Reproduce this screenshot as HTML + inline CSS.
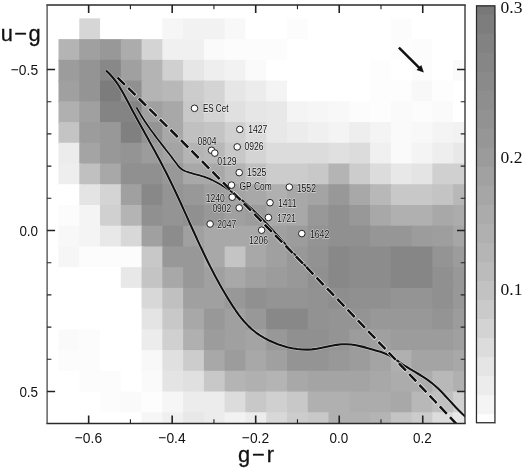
<!DOCTYPE html>
<html><head><meta charset="utf-8"><title>u-g vs g-r</title>
<style>
html,body{margin:0;padding:0;background:#fff;}
svg{display:block;}
.t{font-family:"Liberation Sans","DejaVu Sans",sans-serif;fill:#111;}
.s{font-family:"Liberation Serif","DejaVu Serif",serif;fill:#111;}
.l{font-family:"Liberation Sans","DejaVu Sans",sans-serif;font-size:10.5px;fill:#0a0a0a;stroke:rgba(255,255,255,0.75);stroke-width:1px;paint-order:stroke fill;stroke-linejoin:round;}
</style></head>
<body>
<svg width="525" height="470" viewBox="0 0 525 470">
<rect x="0" y="0" width="525" height="470" fill="#fff"/>
<defs><clipPath id="cp"><rect x="47.1" y="4.9" width="417.9" height="418.7"/></clipPath></defs>
<g clip-path="url(#cp)">
<rect x="58.5" y="18.4" width="22.27" height="22.23" fill="#ffffff"/><rect x="79.27" y="18.4" width="22.27" height="22.23" fill="#d6d6d6"/><rect x="100.04" y="18.4" width="63.81" height="22.23" fill="#ffffff"/><rect x="162.35" y="18.4" width="22.27" height="22.23" fill="#f6f6f6"/><rect x="183.12" y="18.4" width="43.04" height="22.23" fill="#f2f2f2"/><rect x="224.66" y="18.4" width="22.27" height="22.23" fill="#f8f8f8"/><rect x="245.43" y="18.4" width="43.04" height="22.23" fill="#ffffff"/><rect x="286.97" y="18.4" width="22.27" height="22.23" fill="#fcfcfc"/><rect x="307.74" y="18.4" width="84.58" height="22.23" fill="#ffffff"/><rect x="390.82" y="18.4" width="22.27" height="22.23" fill="#fcfcfc"/><rect x="411.59" y="18.4" width="63.81" height="22.23" fill="#ffffff"/>
<rect x="58.5" y="39.13" width="22.27" height="22.23" fill="#b4b4b4"/><rect x="79.27" y="39.13" width="22.27" height="22.23" fill="#a0a0a0"/><rect x="100.04" y="39.13" width="22.27" height="22.23" fill="#989898"/><rect x="120.81" y="39.13" width="22.27" height="22.23" fill="#acacac"/><rect x="141.58" y="39.13" width="22.27" height="22.23" fill="#d4d4d4"/><rect x="162.35" y="39.13" width="43.04" height="22.23" fill="#f0f0f0"/><rect x="203.89" y="39.13" width="22.27" height="22.23" fill="#fafafa"/><rect x="224.66" y="39.13" width="63.81" height="22.23" fill="#fcfcfc"/><rect x="286.97" y="39.13" width="105.35" height="22.23" fill="#ffffff"/><rect x="390.82" y="39.13" width="22.27" height="22.23" fill="#fdfdfd"/><rect x="411.59" y="39.13" width="22.27" height="22.23" fill="#fcfcfc"/><rect x="432.36" y="39.13" width="43.04" height="22.23" fill="#ffffff"/>
<rect x="58.5" y="59.86" width="22.27" height="22.23" fill="#9c9c9c"/><rect x="79.27" y="59.86" width="22.27" height="22.23" fill="#949494"/><rect x="100.04" y="59.86" width="22.27" height="22.23" fill="#888888"/><rect x="120.81" y="59.86" width="22.27" height="22.23" fill="#a0a0a0"/><rect x="141.58" y="59.86" width="22.27" height="22.23" fill="#b4b4b4"/><rect x="162.35" y="59.86" width="22.27" height="22.23" fill="#d0d0d0"/><rect x="183.12" y="59.86" width="22.27" height="22.23" fill="#e6e6e6"/><rect x="203.89" y="59.86" width="22.27" height="22.23" fill="#eeeeee"/><rect x="224.66" y="59.86" width="22.27" height="22.23" fill="#f2f2f2"/><rect x="245.43" y="59.86" width="22.27" height="22.23" fill="#fafafa"/><rect x="266.2" y="59.86" width="105.35" height="22.23" fill="#ffffff"/><rect x="370.05" y="59.86" width="22.27" height="22.23" fill="#fdfdfd"/><rect x="390.82" y="59.86" width="22.27" height="22.23" fill="#ffffff"/><rect x="411.59" y="59.86" width="22.27" height="22.23" fill="#fcfcfc"/><rect x="432.36" y="59.86" width="22.27" height="22.23" fill="#ffffff"/><rect x="453.13" y="59.86" width="22.27" height="22.23" fill="#fafafa"/>
<rect x="58.5" y="80.59" width="22.27" height="22.23" fill="#a0a0a0"/><rect x="79.27" y="80.59" width="22.27" height="22.23" fill="#949494"/><rect x="100.04" y="80.59" width="22.27" height="22.23" fill="#7c7c7c"/><rect x="120.81" y="80.59" width="22.27" height="22.23" fill="#909090"/><rect x="141.58" y="80.59" width="22.27" height="22.23" fill="#b4b4b4"/><rect x="162.35" y="80.59" width="22.27" height="22.23" fill="#b8b8b8"/><rect x="183.12" y="80.59" width="22.27" height="22.23" fill="#cccccc"/><rect x="203.89" y="80.59" width="22.27" height="22.23" fill="#d4d4d4"/><rect x="224.66" y="80.59" width="22.27" height="22.23" fill="#e6e6e6"/><rect x="245.43" y="80.59" width="22.27" height="22.23" fill="#ececec"/><rect x="266.2" y="80.59" width="22.27" height="22.23" fill="#f4f4f4"/><rect x="286.97" y="80.59" width="84.58" height="22.23" fill="#ffffff"/><rect x="370.05" y="80.59" width="43.04" height="22.23" fill="#fdfdfd"/><rect x="411.59" y="80.59" width="22.27" height="22.23" fill="#f8f8f8"/><rect x="432.36" y="80.59" width="22.27" height="22.23" fill="#fdfdfd"/><rect x="453.13" y="80.59" width="22.27" height="22.23" fill="#ffffff"/>
<rect x="58.5" y="101.32" width="22.27" height="22.23" fill="#b0b0b0"/><rect x="79.27" y="101.32" width="22.27" height="22.23" fill="#a0a0a0"/><rect x="100.04" y="101.32" width="43.04" height="22.23" fill="#848484"/><rect x="141.58" y="101.32" width="22.27" height="22.23" fill="#a0a0a0"/><rect x="162.35" y="101.32" width="22.27" height="22.23" fill="#a8a8a8"/><rect x="183.12" y="101.32" width="22.27" height="22.23" fill="#c8c8c8"/><rect x="203.89" y="101.32" width="22.27" height="22.23" fill="#d4d4d4"/><rect x="224.66" y="101.32" width="22.27" height="22.23" fill="#e0e0e0"/><rect x="245.43" y="101.32" width="22.27" height="22.23" fill="#e6e6e6"/><rect x="266.2" y="101.32" width="22.27" height="22.23" fill="#e8e8e8"/><rect x="286.97" y="101.32" width="22.27" height="22.23" fill="#f4f4f4"/><rect x="307.74" y="101.32" width="22.27" height="22.23" fill="#f6f6f6"/><rect x="328.51" y="101.32" width="22.27" height="22.23" fill="#f8f8f8"/><rect x="349.28" y="101.32" width="22.27" height="22.23" fill="#fcfcfc"/><rect x="370.05" y="101.32" width="22.27" height="22.23" fill="#fdfdfd"/><rect x="390.82" y="101.32" width="22.27" height="22.23" fill="#fafafa"/><rect x="411.59" y="101.32" width="22.27" height="22.23" fill="#fcfcfc"/><rect x="432.36" y="101.32" width="22.27" height="22.23" fill="#fafafa"/><rect x="453.13" y="101.32" width="22.27" height="22.23" fill="#ffffff"/>
<rect x="58.5" y="122.05" width="22.27" height="22.23" fill="#c4c4c4"/><rect x="79.27" y="122.05" width="22.27" height="22.23" fill="#9c9c9c"/><rect x="100.04" y="122.05" width="22.27" height="22.23" fill="#989898"/><rect x="120.81" y="122.05" width="22.27" height="22.23" fill="#808080"/><rect x="141.58" y="122.05" width="22.27" height="22.23" fill="#949494"/><rect x="162.35" y="122.05" width="22.27" height="22.23" fill="#a8a8a8"/><rect x="183.12" y="122.05" width="22.27" height="22.23" fill="#c0c0c0"/><rect x="203.89" y="122.05" width="22.27" height="22.23" fill="#c4c4c4"/><rect x="224.66" y="122.05" width="22.27" height="22.23" fill="#d0d0d0"/><rect x="245.43" y="122.05" width="22.27" height="22.23" fill="#dcdcdc"/><rect x="266.2" y="122.05" width="22.27" height="22.23" fill="#e8e8e8"/><rect x="286.97" y="122.05" width="22.27" height="22.23" fill="#ececec"/><rect x="307.74" y="122.05" width="22.27" height="22.23" fill="#f0f0f0"/><rect x="328.51" y="122.05" width="22.27" height="22.23" fill="#f4f4f4"/><rect x="349.28" y="122.05" width="22.27" height="22.23" fill="#eeeeee"/><rect x="370.05" y="122.05" width="22.27" height="22.23" fill="#f4f4f4"/><rect x="390.82" y="122.05" width="22.27" height="22.23" fill="#fafafa"/><rect x="411.59" y="122.05" width="22.27" height="22.23" fill="#f8f8f8"/><rect x="432.36" y="122.05" width="22.27" height="22.23" fill="#f4f4f4"/><rect x="453.13" y="122.05" width="22.27" height="22.23" fill="#f2f2f2"/>
<rect x="58.5" y="142.78" width="22.27" height="22.23" fill="#ececec"/><rect x="79.27" y="142.78" width="22.27" height="22.23" fill="#a4a4a4"/><rect x="100.04" y="142.78" width="22.27" height="22.23" fill="#989898"/><rect x="120.81" y="142.78" width="22.27" height="22.23" fill="#949494"/><rect x="141.58" y="142.78" width="22.27" height="22.23" fill="#9c9c9c"/><rect x="162.35" y="142.78" width="22.27" height="22.23" fill="#a4a4a4"/><rect x="183.12" y="142.78" width="22.27" height="22.23" fill="#b4b4b4"/><rect x="203.89" y="142.78" width="22.27" height="22.23" fill="#b8b8b8"/><rect x="224.66" y="142.78" width="22.27" height="22.23" fill="#c8c8c8"/><rect x="245.43" y="142.78" width="22.27" height="22.23" fill="#d4d4d4"/><rect x="266.2" y="142.78" width="63.81" height="22.23" fill="#dcdcdc"/><rect x="328.51" y="142.78" width="22.27" height="22.23" fill="#e0e0e0"/><rect x="349.28" y="142.78" width="22.27" height="22.23" fill="#dcdcdc"/><rect x="370.05" y="142.78" width="22.27" height="22.23" fill="#f0f0f0"/><rect x="390.82" y="142.78" width="22.27" height="22.23" fill="#fafafa"/><rect x="411.59" y="142.78" width="22.27" height="22.23" fill="#f4f4f4"/><rect x="432.36" y="142.78" width="22.27" height="22.23" fill="#eeeeee"/><rect x="453.13" y="142.78" width="22.27" height="22.23" fill="#e8e8e8"/>
<rect x="58.5" y="163.51" width="22.27" height="22.23" fill="#eeeeee"/><rect x="79.27" y="163.51" width="22.27" height="22.23" fill="#c0c0c0"/><rect x="100.04" y="163.51" width="22.27" height="22.23" fill="#a8a8a8"/><rect x="120.81" y="163.51" width="43.04" height="22.23" fill="#909090"/><rect x="162.35" y="163.51" width="22.27" height="22.23" fill="#989898"/><rect x="183.12" y="163.51" width="43.04" height="22.23" fill="#a8a8a8"/><rect x="224.66" y="163.51" width="22.27" height="22.23" fill="#b4b4b4"/><rect x="245.43" y="163.51" width="22.27" height="22.23" fill="#c0c0c0"/><rect x="266.2" y="163.51" width="43.04" height="22.23" fill="#cccccc"/><rect x="307.74" y="163.51" width="22.27" height="22.23" fill="#c8c8c8"/><rect x="328.51" y="163.51" width="22.27" height="22.23" fill="#b4b4b4"/><rect x="349.28" y="163.51" width="22.27" height="22.23" fill="#cccccc"/><rect x="370.05" y="163.51" width="22.27" height="22.23" fill="#dcdcdc"/><rect x="390.82" y="163.51" width="22.27" height="22.23" fill="#e8e8e8"/><rect x="411.59" y="163.51" width="22.27" height="22.23" fill="#e4e4e4"/><rect x="432.36" y="163.51" width="43.04" height="22.23" fill="#d0d0d0"/>
<rect x="58.5" y="184.24" width="22.27" height="22.23" fill="#ffffff"/><rect x="79.27" y="184.24" width="22.27" height="22.23" fill="#e4e4e4"/><rect x="100.04" y="184.24" width="22.27" height="22.23" fill="#d4d4d4"/><rect x="120.81" y="184.24" width="22.27" height="22.23" fill="#a0a0a0"/><rect x="141.58" y="184.24" width="22.27" height="22.23" fill="#888888"/><rect x="162.35" y="184.24" width="22.27" height="22.23" fill="#949494"/><rect x="183.12" y="184.24" width="22.27" height="22.23" fill="#989898"/><rect x="203.89" y="184.24" width="22.27" height="22.23" fill="#a0a0a0"/><rect x="224.66" y="184.24" width="22.27" height="22.23" fill="#a4a4a4"/><rect x="245.43" y="184.24" width="22.27" height="22.23" fill="#a8a8a8"/><rect x="266.2" y="184.24" width="22.27" height="22.23" fill="#b0b0b0"/><rect x="286.97" y="184.24" width="22.27" height="22.23" fill="#a8a8a8"/><rect x="307.74" y="184.24" width="22.27" height="22.23" fill="#a4a4a4"/><rect x="328.51" y="184.24" width="22.27" height="22.23" fill="#989898"/><rect x="349.28" y="184.24" width="22.27" height="22.23" fill="#a8a8a8"/><rect x="370.05" y="184.24" width="22.27" height="22.23" fill="#b8b8b8"/><rect x="390.82" y="184.24" width="43.04" height="22.23" fill="#c8c8c8"/><rect x="432.36" y="184.24" width="22.27" height="22.23" fill="#c4c4c4"/><rect x="453.13" y="184.24" width="22.27" height="22.23" fill="#b8b8b8"/>
<rect x="58.5" y="204.97" width="22.27" height="22.23" fill="#fcfcfc"/><rect x="79.27" y="204.97" width="22.27" height="22.23" fill="#f4f4f4"/><rect x="100.04" y="204.97" width="22.27" height="22.23" fill="#d0d0d0"/><rect x="120.81" y="204.97" width="22.27" height="22.23" fill="#b4b4b4"/><rect x="141.58" y="204.97" width="22.27" height="22.23" fill="#909090"/><rect x="162.35" y="204.97" width="22.27" height="22.23" fill="#949494"/><rect x="183.12" y="204.97" width="22.27" height="22.23" fill="#909090"/><rect x="203.89" y="204.97" width="22.27" height="22.23" fill="#989898"/><rect x="224.66" y="204.97" width="22.27" height="22.23" fill="#a0a0a0"/><rect x="245.43" y="204.97" width="22.27" height="22.23" fill="#9c9c9c"/><rect x="266.2" y="204.97" width="43.04" height="22.23" fill="#a8a8a8"/><rect x="307.74" y="204.97" width="22.27" height="22.23" fill="#989898"/><rect x="328.51" y="204.97" width="22.27" height="22.23" fill="#909090"/><rect x="349.28" y="204.97" width="22.27" height="22.23" fill="#989898"/><rect x="370.05" y="204.97" width="22.27" height="22.23" fill="#a8a8a8"/><rect x="390.82" y="204.97" width="43.04" height="22.23" fill="#b0b0b0"/><rect x="432.36" y="204.97" width="22.27" height="22.23" fill="#a8a8a8"/><rect x="453.13" y="204.97" width="22.27" height="22.23" fill="#acacac"/>
<rect x="58.5" y="225.7" width="22.27" height="22.23" fill="#f8f8f8"/><rect x="79.27" y="225.7" width="22.27" height="22.23" fill="#f4f4f4"/><rect x="100.04" y="225.7" width="22.27" height="22.23" fill="#e8e8e8"/><rect x="120.81" y="225.7" width="22.27" height="22.23" fill="#d8d8d8"/><rect x="141.58" y="225.7" width="22.27" height="22.23" fill="#a0a0a0"/><rect x="162.35" y="225.7" width="22.27" height="22.23" fill="#8c8c8c"/><rect x="183.12" y="225.7" width="22.27" height="22.23" fill="#a0a0a0"/><rect x="203.89" y="225.7" width="63.81" height="22.23" fill="#a8a8a8"/><rect x="266.2" y="225.7" width="22.27" height="22.23" fill="#a0a0a0"/><rect x="286.97" y="225.7" width="22.27" height="22.23" fill="#9c9c9c"/><rect x="307.74" y="225.7" width="22.27" height="22.23" fill="#949494"/><rect x="328.51" y="225.7" width="43.04" height="22.23" fill="#909090"/><rect x="370.05" y="225.7" width="43.04" height="22.23" fill="#969696"/><rect x="411.59" y="225.7" width="22.27" height="22.23" fill="#9c9c9c"/><rect x="432.36" y="225.7" width="22.27" height="22.23" fill="#9e9e9e"/><rect x="453.13" y="225.7" width="22.27" height="22.23" fill="#a6a6a6"/>
<rect x="58.5" y="246.43" width="22.27" height="22.23" fill="#f6f6f6"/><rect x="79.27" y="246.43" width="63.81" height="22.23" fill="#fcfcfc"/><rect x="141.58" y="246.43" width="22.27" height="22.23" fill="#c8c8c8"/><rect x="162.35" y="246.43" width="43.04" height="22.23" fill="#989898"/><rect x="203.89" y="246.43" width="22.27" height="22.23" fill="#a8a8a8"/><rect x="224.66" y="246.43" width="22.27" height="22.23" fill="#c4c4c4"/><rect x="245.43" y="246.43" width="22.27" height="22.23" fill="#a8a8a8"/><rect x="266.2" y="246.43" width="22.27" height="22.23" fill="#a0a0a0"/><rect x="286.97" y="246.43" width="22.27" height="22.23" fill="#989898"/><rect x="307.74" y="246.43" width="22.27" height="22.23" fill="#929292"/><rect x="328.51" y="246.43" width="22.27" height="22.23" fill="#888888"/><rect x="349.28" y="246.43" width="43.04" height="22.23" fill="#8c8c8c"/><rect x="390.82" y="246.43" width="43.04" height="22.23" fill="#868686"/><rect x="432.36" y="246.43" width="22.27" height="22.23" fill="#949494"/><rect x="453.13" y="246.43" width="22.27" height="22.23" fill="#9c9c9c"/>
<rect x="58.5" y="267.16" width="63.81" height="22.23" fill="#ffffff"/><rect x="120.81" y="267.16" width="22.27" height="22.23" fill="#e8e8e8"/><rect x="141.58" y="267.16" width="22.27" height="22.23" fill="#c4c4c4"/><rect x="162.35" y="267.16" width="22.27" height="22.23" fill="#a8a8a8"/><rect x="183.12" y="267.16" width="22.27" height="22.23" fill="#989898"/><rect x="203.89" y="267.16" width="22.27" height="22.23" fill="#a0a0a0"/><rect x="224.66" y="267.16" width="22.27" height="22.23" fill="#a8a8a8"/><rect x="245.43" y="267.16" width="22.27" height="22.23" fill="#a0a0a0"/><rect x="266.2" y="267.16" width="22.27" height="22.23" fill="#9c9c9c"/><rect x="286.97" y="267.16" width="22.27" height="22.23" fill="#989898"/><rect x="307.74" y="267.16" width="22.27" height="22.23" fill="#909090"/><rect x="328.51" y="267.16" width="22.27" height="22.23" fill="#888888"/><rect x="349.28" y="267.16" width="43.04" height="22.23" fill="#8c8c8c"/><rect x="390.82" y="267.16" width="43.04" height="22.23" fill="#868686"/><rect x="432.36" y="267.16" width="22.27" height="22.23" fill="#909090"/><rect x="453.13" y="267.16" width="22.27" height="22.23" fill="#989898"/>
<rect x="58.5" y="287.89" width="84.58" height="22.23" fill="#ffffff"/><rect x="141.58" y="287.89" width="22.27" height="22.23" fill="#d8d8d8"/><rect x="162.35" y="287.89" width="22.27" height="22.23" fill="#c0c0c0"/><rect x="183.12" y="287.89" width="43.04" height="22.23" fill="#a0a0a0"/><rect x="224.66" y="287.89" width="22.27" height="22.23" fill="#989898"/><rect x="245.43" y="287.89" width="22.27" height="22.23" fill="#909090"/><rect x="266.2" y="287.89" width="43.04" height="22.23" fill="#949494"/><rect x="307.74" y="287.89" width="22.27" height="22.23" fill="#929292"/><rect x="328.51" y="287.89" width="22.27" height="22.23" fill="#8e8e8e"/><rect x="349.28" y="287.89" width="43.04" height="22.23" fill="#909090"/><rect x="390.82" y="287.89" width="43.04" height="22.23" fill="#949494"/><rect x="432.36" y="287.89" width="22.27" height="22.23" fill="#909090"/><rect x="453.13" y="287.89" width="22.27" height="22.23" fill="#989898"/>
<rect x="58.5" y="308.62" width="84.58" height="22.23" fill="#ffffff"/><rect x="141.58" y="308.62" width="22.27" height="22.23" fill="#e4e4e4"/><rect x="162.35" y="308.62" width="22.27" height="22.23" fill="#c8c8c8"/><rect x="183.12" y="308.62" width="22.27" height="22.23" fill="#a8a8a8"/><rect x="203.89" y="308.62" width="22.27" height="22.23" fill="#989898"/><rect x="224.66" y="308.62" width="22.27" height="22.23" fill="#a0a0a0"/><rect x="245.43" y="308.62" width="22.27" height="22.23" fill="#989898"/><rect x="266.2" y="308.62" width="43.04" height="22.23" fill="#888888"/><rect x="307.74" y="308.62" width="22.27" height="22.23" fill="#929292"/><rect x="328.51" y="308.62" width="43.04" height="22.23" fill="#949494"/><rect x="370.05" y="308.62" width="63.81" height="22.23" fill="#989898"/><rect x="432.36" y="308.62" width="22.27" height="22.23" fill="#949494"/><rect x="453.13" y="308.62" width="22.27" height="22.23" fill="#9c9c9c"/>
<rect x="58.5" y="329.35" width="22.27" height="22.23" fill="#fafafa"/><rect x="79.27" y="329.35" width="22.27" height="22.23" fill="#fcfcfc"/><rect x="100.04" y="329.35" width="43.04" height="22.23" fill="#ffffff"/><rect x="141.58" y="329.35" width="22.27" height="22.23" fill="#ececec"/><rect x="162.35" y="329.35" width="22.27" height="22.23" fill="#d0d0d0"/><rect x="183.12" y="329.35" width="22.27" height="22.23" fill="#b0b0b0"/><rect x="203.89" y="329.35" width="22.27" height="22.23" fill="#9c9c9c"/><rect x="224.66" y="329.35" width="22.27" height="22.23" fill="#a0a0a0"/><rect x="245.43" y="329.35" width="22.27" height="22.23" fill="#a4a4a4"/><rect x="266.2" y="329.35" width="22.27" height="22.23" fill="#989898"/><rect x="286.97" y="329.35" width="43.04" height="22.23" fill="#909090"/><rect x="328.51" y="329.35" width="22.27" height="22.23" fill="#949494"/><rect x="349.28" y="329.35" width="22.27" height="22.23" fill="#9c9c9c"/><rect x="370.05" y="329.35" width="22.27" height="22.23" fill="#a0a0a0"/><rect x="390.82" y="329.35" width="63.81" height="22.23" fill="#9c9c9c"/><rect x="453.13" y="329.35" width="22.27" height="22.23" fill="#a0a0a0"/>
<rect x="58.5" y="350.08" width="43.04" height="22.23" fill="#fcfcfc"/><rect x="100.04" y="350.08" width="43.04" height="22.23" fill="#ffffff"/><rect x="141.58" y="350.08" width="22.27" height="22.23" fill="#f8f8f8"/><rect x="162.35" y="350.08" width="22.27" height="22.23" fill="#e0e0e0"/><rect x="183.12" y="350.08" width="22.27" height="22.23" fill="#cccccc"/><rect x="203.89" y="350.08" width="22.27" height="22.23" fill="#a8a8a8"/><rect x="224.66" y="350.08" width="22.27" height="22.23" fill="#9c9c9c"/><rect x="245.43" y="350.08" width="22.27" height="22.23" fill="#a8a8a8"/><rect x="266.2" y="350.08" width="22.27" height="22.23" fill="#a0a0a0"/><rect x="286.97" y="350.08" width="43.04" height="22.23" fill="#949494"/><rect x="328.51" y="350.08" width="22.27" height="22.23" fill="#989898"/><rect x="349.28" y="350.08" width="22.27" height="22.23" fill="#9c9c9c"/><rect x="370.05" y="350.08" width="22.27" height="22.23" fill="#a4a4a4"/><rect x="390.82" y="350.08" width="22.27" height="22.23" fill="#b0b0b0"/><rect x="411.59" y="350.08" width="43.04" height="22.23" fill="#a4a4a4"/><rect x="453.13" y="350.08" width="22.27" height="22.23" fill="#a8a8a8"/>
<rect x="58.5" y="370.81" width="22.27" height="22.23" fill="#ffffff"/><rect x="79.27" y="370.81" width="43.04" height="22.23" fill="#fcfcfc"/><rect x="120.81" y="370.81" width="22.27" height="22.23" fill="#ffffff"/><rect x="141.58" y="370.81" width="22.27" height="22.23" fill="#fafafa"/><rect x="162.35" y="370.81" width="22.27" height="22.23" fill="#e4e4e4"/><rect x="183.12" y="370.81" width="22.27" height="22.23" fill="#e0e0e0"/><rect x="203.89" y="370.81" width="22.27" height="22.23" fill="#c8c8c8"/><rect x="224.66" y="370.81" width="22.27" height="22.23" fill="#b4b4b4"/><rect x="245.43" y="370.81" width="22.27" height="22.23" fill="#b0b0b0"/><rect x="266.2" y="370.81" width="22.27" height="22.23" fill="#b4b4b4"/><rect x="286.97" y="370.81" width="22.27" height="22.23" fill="#a8a8a8"/><rect x="307.74" y="370.81" width="63.81" height="22.23" fill="#a4a4a4"/><rect x="370.05" y="370.81" width="22.27" height="22.23" fill="#a8a8a8"/><rect x="390.82" y="370.81" width="43.04" height="22.23" fill="#acacac"/><rect x="432.36" y="370.81" width="22.27" height="22.23" fill="#b8b8b8"/><rect x="453.13" y="370.81" width="22.27" height="22.23" fill="#b0b0b0"/>
<rect x="58.5" y="391.54" width="43.04" height="22.23" fill="#ffffff"/><rect x="100.04" y="391.54" width="22.27" height="22.23" fill="#fcfcfc"/><rect x="120.81" y="391.54" width="22.27" height="22.23" fill="#fafafa"/><rect x="141.58" y="391.54" width="22.27" height="22.23" fill="#fdfdfd"/><rect x="162.35" y="391.54" width="22.27" height="22.23" fill="#f6f6f6"/><rect x="183.12" y="391.54" width="43.04" height="22.23" fill="#ececec"/><rect x="224.66" y="391.54" width="22.27" height="22.23" fill="#dcdcdc"/><rect x="245.43" y="391.54" width="22.27" height="22.23" fill="#c8c8c8"/><rect x="266.2" y="391.54" width="22.27" height="22.23" fill="#d0d0d0"/><rect x="286.97" y="391.54" width="22.27" height="22.23" fill="#c8c8c8"/><rect x="307.74" y="391.54" width="43.04" height="22.23" fill="#b0b0b0"/><rect x="349.28" y="391.54" width="43.04" height="22.23" fill="#acacac"/><rect x="390.82" y="391.54" width="22.27" height="22.23" fill="#a8a8a8"/><rect x="411.59" y="391.54" width="22.27" height="22.23" fill="#b8b8b8"/><rect x="432.36" y="391.54" width="22.27" height="22.23" fill="#c0c0c0"/><rect x="453.13" y="391.54" width="22.27" height="22.23" fill="#d0d0d0"/>
<rect x="58.5" y="412.27" width="84.58" height="22.23" fill="#ffffff"/><rect x="141.58" y="412.27" width="22.27" height="22.23" fill="#f6f6f6"/><rect x="162.35" y="412.27" width="22.27" height="22.23" fill="#f0f0f0"/><rect x="183.12" y="412.27" width="22.27" height="22.23" fill="#e8e8e8"/><rect x="203.89" y="412.27" width="22.27" height="22.23" fill="#ececec"/><rect x="224.66" y="412.27" width="22.27" height="22.23" fill="#f2f2f2"/><rect x="245.43" y="412.27" width="22.27" height="22.23" fill="#ececec"/><rect x="266.2" y="412.27" width="22.27" height="22.23" fill="#d8d8d8"/><rect x="286.97" y="412.27" width="22.27" height="22.23" fill="#cccccc"/><rect x="307.74" y="412.27" width="22.27" height="22.23" fill="#c8c8c8"/><rect x="328.51" y="412.27" width="43.04" height="22.23" fill="#b0b0b0"/><rect x="370.05" y="412.27" width="22.27" height="22.23" fill="#b4b4b4"/><rect x="390.82" y="412.27" width="22.27" height="22.23" fill="#c4c4c4"/><rect x="411.59" y="412.27" width="22.27" height="22.23" fill="#cccccc"/><rect x="432.36" y="412.27" width="22.27" height="22.23" fill="#dcdcdc"/><rect x="453.13" y="412.27" width="22.27" height="22.23" fill="#e8e8e8"/>
</g>
<g clip-path="url(#cp)" fill="none" stroke-linecap="butt" stroke-linejoin="round">
<path d="M106.05 70.42 L109.66 73.98 L112.95 77.74 L115.97 81.68 L118.76 85.78 L121.37 89.99 L123.84 94.31 L126.22 98.68 L128.55 103.09 L130.87 107.5 L133.22 111.9 L135.59 116.28 L137.98 120.64 L140.38 125 L142.79 129.35 L145.21 133.7 L147.62 138.04 L150.02 142.39 L152.41 146.73 L154.79 151.09 L157.16 155.45 L159.5 159.83 L161.82 164.22 L164.11 168.63 L166.38 173.05 L168.61 177.5 L170.81 181.97 L172.97 186.46 L175.11 190.96 L177.22 195.49 L179.31 200.02 L181.39 204.56 L183.45 209.1 L185.51 213.65 L187.55 218.19 L189.6 222.73 L191.65 227.26 L193.71 231.79 L195.77 236.31 L197.85 240.83 L199.94 245.33 L202.06 249.82 L204.2 254.3 L206.36 258.77 L208.56 263.22 L210.79 267.65 L213.07 272.07 L215.38 276.47 L217.74 280.84 L220.15 285.2 L222.62 289.53 L225.14 293.84 L227.72 298.13 L230.37 302.38 L233.09 306.61 L235.9 310.78 L238.82 314.85 L241.87 318.79 L245.09 322.57 L248.49 326.14 L252.1 329.47 L255.94 332.54 L259.99 335.34 L264.22 337.89 L268.62 340.21 L273.15 342.32 L277.79 344.21 L282.53 345.84 L287.34 347.21 L292.22 348.29 L297.14 349.06 L302.09 349.51 L307.05 349.62 L312.01 349.37 L316.93 348.74 L321.84 347.82 L326.72 346.76 L331.6 345.72 L336.47 344.84 L341.35 344.28 L346.25 344.19 L351.16 344.57 L356.08 345.33 L360.99 346.38 L365.89 347.64 L370.76 349.01 L375.6 350.41 L380.37 351.85 L385.01 353.49 L389.46 355.49 L393.66 358.01 L397.68 360.92 L401.77 363.8 L405.98 366.52 L410.27 369.13 L414.59 371.68 L418.9 374.25 L423.15 376.87 L427.29 379.63 L431.27 382.56 L435.06 385.72 L438.69 389.08 L442.19 392.59 L445.59 396.21 L448.96 399.89 L452.31 403.58 L455.7 407.23 L459.16 410.81 L462.73 414.26 L466.46 417.53" stroke="#fff" stroke-width="3.1" opacity="0.55"/>
<path d="M106.05 70.42 L109.66 73.98 L112.95 77.74 L115.97 81.68 L118.76 85.78 L121.37 89.99 L123.84 94.31 L126.22 98.68 L128.55 103.09 L130.87 107.5 L133.22 111.9 L135.59 116.28 L137.98 120.64 L140.38 125 L142.79 129.35 L145.21 133.7 L147.62 138.04 L150.02 142.39 L152.41 146.73 L154.79 151.09 L157.16 155.45 L159.5 159.83 L161.82 164.22 L164.11 168.63 L166.38 173.05 L168.61 177.5 L170.81 181.97 L172.97 186.46 L175.11 190.96 L177.22 195.49 L179.31 200.02 L181.39 204.56 L183.45 209.1 L185.51 213.65 L187.55 218.19 L189.6 222.73 L191.65 227.26 L193.71 231.79 L195.77 236.31 L197.85 240.83 L199.94 245.33 L202.06 249.82 L204.2 254.3 L206.36 258.77 L208.56 263.22 L210.79 267.65 L213.07 272.07 L215.38 276.47 L217.74 280.84 L220.15 285.2 L222.62 289.53 L225.14 293.84 L227.72 298.13 L230.37 302.38 L233.09 306.61 L235.9 310.78 L238.82 314.85 L241.87 318.79 L245.09 322.57 L248.49 326.14 L252.1 329.47 L255.94 332.54 L259.99 335.34 L264.22 337.89 L268.62 340.21 L273.15 342.32 L277.79 344.21 L282.53 345.84 L287.34 347.21 L292.22 348.29 L297.14 349.06 L302.09 349.51 L307.05 349.62 L312.01 349.37 L316.93 348.74 L321.84 347.82 L326.72 346.76 L331.6 345.72 L336.47 344.84 L341.35 344.28 L346.25 344.19 L351.16 344.57 L356.08 345.33 L360.99 346.38 L365.89 347.64 L370.76 349.01 L375.6 350.41 L380.37 351.85 L385.01 353.49 L389.46 355.49 L393.66 358.01 L397.68 360.92 L401.77 363.8 L405.98 366.52 L410.27 369.13 L414.59 371.68 L418.9 374.25 L423.15 376.87 L427.29 379.63 L431.27 382.56 L435.06 385.72 L438.69 389.08 L442.19 392.59 L445.59 396.21 L448.96 399.89 L452.31 403.58 L455.7 407.23 L459.16 410.81 L462.73 414.26 L466.46 417.53" stroke="#111" stroke-width="2.1"/>
<path d="M136.5 107.39 L137.74 109.66 L139.02 111.91 L140.33 114.13 L141.67 116.34 L143.05 118.52 L144.45 120.68 L145.87 122.83 L147.32 124.96 L148.79 127.07 L150.29 129.17 L151.8 131.26 L153.32 133.33 L154.87 135.4 L156.42 137.46 L157.98 139.51 L159.56 141.55 L161.13 143.59 L162.72 145.63 L164.3 147.67 L165.89 149.7 L167.47 151.74 L169.06 153.78 L170.63 155.82 L172.2 157.86 L173.76 159.92 L175.31 161.98 L176.85 164.05 L178.37 166.12 Q179.9 168.2 183.54 170.42 L183.54 170.42 L185.48 171.25 L187.46 171.98 L189.48 172.63 L191.51 173.23 L193.57 173.79 L195.63 174.33 L197.69 174.88 L199.75 175.44 L201.79 176.04 L203.81 176.68 L205.81 177.38 L207.78 178.13 L209.72 178.94 L211.65 179.81 L213.55 180.72 L215.42 181.68 L217.28 182.68 L219.12 183.72 L220.93 184.79 L222.73 185.9 L224.51 187.04 L226.27 188.21 L228.01 189.4 L229.74 190.61 L231.46 191.84 L233.15 193.09 L234.84 194.36 L236.51 195.65 L238.17 196.96 L239.81 198.28 L241.44 199.62 L243.06 200.98 L244.66 202.36 L246.25 203.74 L247.84 205.15 L249.41 206.56 L250.97 208 L252.52 209.44 L254.06 210.89 L255.59 212.36 L257.11 213.84 L258.62 215.33 L260.12 216.83 L261.62 218.34 L263.11 219.85 L264.59 221.38 L266.07 222.91 L267.53 224.45 L269 226 L270.45 227.56 L271.9 229.11 L273.35 230.68 L274.79 232.25 L276.23 233.82 L277.66 235.39 L279.09 236.97 L280.52 238.55 L281.95 240.13 L283.37 241.71 L284.79 243.3 L286.21 244.88 L287.63 246.46 L289.05 248.04 L290.46 249.62 L291.88 251.2 L293.3 252.77 L294.72 254.34 L296.14 255.9 L297.56 257.46 L298.99 259.02 L300.41 260.57 L301.84 262.11 L303.28 263.65 L304.71 265.17 L306.15 266.69 L307.6 268.2 L309.05 269.71" stroke="#fff" stroke-width="2.8" opacity="0.55"/>
<path d="M136.5 107.39 L137.74 109.66 L139.02 111.91 L140.33 114.13 L141.67 116.34 L143.05 118.52 L144.45 120.68 L145.87 122.83 L147.32 124.96 L148.79 127.07 L150.29 129.17 L151.8 131.26 L153.32 133.33 L154.87 135.4 L156.42 137.46 L157.98 139.51 L159.56 141.55 L161.13 143.59 L162.72 145.63 L164.3 147.67 L165.89 149.7 L167.47 151.74 L169.06 153.78 L170.63 155.82 L172.2 157.86 L173.76 159.92 L175.31 161.98 L176.85 164.05 L178.37 166.12 Q179.9 168.2 183.54 170.42 L183.54 170.42 L185.48 171.25 L187.46 171.98 L189.48 172.63 L191.51 173.23 L193.57 173.79 L195.63 174.33 L197.69 174.88 L199.75 175.44 L201.79 176.04 L203.81 176.68 L205.81 177.38 L207.78 178.13 L209.72 178.94 L211.65 179.81 L213.55 180.72 L215.42 181.68 L217.28 182.68 L219.12 183.72 L220.93 184.79 L222.73 185.9 L224.51 187.04 L226.27 188.21 L228.01 189.4 L229.74 190.61 L231.46 191.84 L233.15 193.09 L234.84 194.36 L236.51 195.65 L238.17 196.96 L239.81 198.28 L241.44 199.62 L243.06 200.98 L244.66 202.36 L246.25 203.74 L247.84 205.15 L249.41 206.56 L250.97 208 L252.52 209.44 L254.06 210.89 L255.59 212.36 L257.11 213.84 L258.62 215.33 L260.12 216.83 L261.62 218.34 L263.11 219.85 L264.59 221.38 L266.07 222.91 L267.53 224.45 L269 226 L270.45 227.56 L271.9 229.11 L273.35 230.68 L274.79 232.25 L276.23 233.82 L277.66 235.39 L279.09 236.97 L280.52 238.55 L281.95 240.13 L283.37 241.71 L284.79 243.3 L286.21 244.88 L287.63 246.46 L289.05 248.04 L290.46 249.62 L291.88 251.2 L293.3 252.77 L294.72 254.34 L296.14 255.9 L297.56 257.46 L298.99 259.02 L300.41 260.57 L301.84 262.11 L303.28 263.65 L304.71 265.17 L306.15 266.69 L307.6 268.2 L309.05 269.71" stroke="#111" stroke-width="1.8"/>
<path d="M117.6 77.56 L129.37 89.13 L141.14 100.74 L152.92 112.38 L164.69 124.06 L176.46 135.76 L188.23 147.5 L200.01 159.28 L211.78 171.08 L223.55 182.93 L235.32 194.8 L247.1 206.71 L258.87 218.65 L270.64 230.62 L282.41 242.63 L294.19 254.67 L305.96 266.74 L317.73 278.85 L329.5 290.99 L341.28 303.16 L353.05 315.37 L364.82 327.61 L376.59 339.88 L388.37 352.19 L400.14 364.53 L411.91 376.91 L423.68 389.31 L435.46 401.75 L447.23 414.23 L459 426.73" stroke="#fff" stroke-width="3.7" stroke-dasharray="11.5 3.35" stroke-dashoffset="0.6" opacity="0.8"/>
<path d="M117.6 77.56 L129.37 89.13 L141.14 100.74 L152.92 112.38 L164.69 124.06 L176.46 135.76 L188.23 147.5 L200.01 159.28 L211.78 171.08 L223.55 182.93 L235.32 194.8 L247.1 206.71 L258.87 218.65 L270.64 230.62 L282.41 242.63 L294.19 254.67 L305.96 266.74 L317.73 278.85 L329.5 290.99 L341.28 303.16 L353.05 315.37 L364.82 327.61 L376.59 339.88 L388.37 352.19 L400.14 364.53 L411.91 376.91 L423.68 389.31 L435.46 401.75 L447.23 414.23 L459 426.73" stroke="#111" stroke-width="2.5" stroke-dasharray="10.3 4.55"/>
</g>
<g stroke="#111" fill="#111"><path d="M398.9 47.7 L419.8 68.4" stroke-width="2.5" fill="none"/><path d="M423.9 72.5 L416.5 69.9 L421.3 65.1 Z" stroke="none"/></g>
<text class="l" x="202.9" y="111.5" textLength="25.5" lengthAdjust="spacingAndGlyphs">ES Cet</text>
<text class="l" x="248.2" y="132.5" textLength="19" lengthAdjust="spacingAndGlyphs">1427</text>
<text class="l" x="244.6" y="149.8" textLength="19" lengthAdjust="spacingAndGlyphs">0926</text>
<text class="l" x="197.4" y="145.3" textLength="19" lengthAdjust="spacingAndGlyphs">0804</text>
<text class="l" x="217.3" y="164.5" textLength="19.4" lengthAdjust="spacingAndGlyphs">0129</text>
<text class="l" x="247.1" y="175.9" textLength="19.2" lengthAdjust="spacingAndGlyphs">1525</text>
<text class="l" x="239.5" y="190" textLength="32.2" lengthAdjust="spacingAndGlyphs">GP Com</text>
<text class="l" x="296.7" y="191.8" textLength="19.3" lengthAdjust="spacingAndGlyphs">1552</text>
<text class="l" x="205.8" y="201.5" textLength="19.1" lengthAdjust="spacingAndGlyphs">1240</text>
<text class="l" x="278" y="207.3" textLength="18.6" lengthAdjust="spacingAndGlyphs">1411</text>
<text class="l" x="212.4" y="211.9" textLength="18.8" lengthAdjust="spacingAndGlyphs">0902</text>
<text class="l" x="277.2" y="221.5" textLength="18.6" lengthAdjust="spacingAndGlyphs">1721</text>
<text class="l" x="217.3" y="227.6" textLength="19.1" lengthAdjust="spacingAndGlyphs">2047</text>
<text class="l" x="249" y="243.5" textLength="19" lengthAdjust="spacingAndGlyphs">1206</text>
<text class="l" x="309.9" y="238.2" textLength="19.4" lengthAdjust="spacingAndGlyphs">1642</text>
<circle cx="194.5" cy="108.3" r="3.3" fill="#fff" stroke="#222" stroke-width="1"/>
<circle cx="239.8" cy="129.4" r="3.3" fill="#fff" stroke="#222" stroke-width="1"/>
<circle cx="237.2" cy="146.9" r="3.3" fill="#fff" stroke="#222" stroke-width="1"/>
<circle cx="211.5" cy="150.3" r="3.3" fill="#fff" stroke="#222" stroke-width="1"/>
<circle cx="214.8" cy="153.1" r="3.3" fill="#fff" stroke="#222" stroke-width="1"/>
<circle cx="239.2" cy="172.6" r="3.3" fill="#fff" stroke="#222" stroke-width="1"/>
<circle cx="231.5" cy="185.1" r="3.3" fill="#fff" stroke="#222" stroke-width="1"/>
<circle cx="289.3" cy="187.1" r="3.3" fill="#fff" stroke="#222" stroke-width="1"/>
<circle cx="232.2" cy="197.2" r="3.3" fill="#fff" stroke="#222" stroke-width="1"/>
<circle cx="270" cy="202.7" r="3.3" fill="#fff" stroke="#222" stroke-width="1"/>
<circle cx="239.2" cy="207.9" r="3.3" fill="#fff" stroke="#222" stroke-width="1"/>
<circle cx="268.4" cy="217.5" r="3.3" fill="#fff" stroke="#222" stroke-width="1"/>
<circle cx="210.1" cy="224" r="3.3" fill="#fff" stroke="#222" stroke-width="1"/>
<circle cx="261.6" cy="230.2" r="3.3" fill="#fff" stroke="#222" stroke-width="1"/>
<circle cx="301.8" cy="233.6" r="3.3" fill="#fff" stroke="#222" stroke-width="1"/>
<path d="M47.1 4.9 H465 M47.1 423.6 H465" fill="none" stroke="#2a2a2a" stroke-width="1.5" stroke-linecap="square"/>
<path d="M47.1 4.9 V423.6" fill="none" stroke="#4a4a4a" stroke-width="1.3"/>
<path d="M465 4.9 V423.6" fill="none" stroke="#383838" stroke-width="1.4"/>
<g stroke="#222" fill="none">
<path d="M88.66 423.6 v-8 M88.66 4.9 v8" stroke-width="1.6"/>
<path d="M130.42 423.6 v-4.3 M130.42 4.9 v4.3" stroke-width="1.1"/>
<path d="M172.18 423.6 v-8 M172.18 4.9 v8" stroke-width="1.6"/>
<path d="M213.94 423.6 v-4.3 M213.94 4.9 v4.3" stroke-width="1.1"/>
<path d="M255.7 423.6 v-8 M255.7 4.9 v8" stroke-width="1.6"/>
<path d="M297.46 423.6 v-4.3 M297.46 4.9 v4.3" stroke-width="1.1"/>
<path d="M339.22 423.6 v-8 M339.22 4.9 v8" stroke-width="1.6"/>
<path d="M380.98 423.6 v-4.3 M380.98 4.9 v4.3" stroke-width="1.1"/>
<path d="M422.74 423.6 v-8 M422.74 4.9 v8" stroke-width="1.6"/>
<path d="M47.1 69.5 h8 M465 69.5 h-8" stroke-width="1.6"/>
<path d="M47.1 101.7 h4.3 M465 101.7 h-4.3" stroke-width="1.1"/>
<path d="M47.1 133.9 h4.3 M465 133.9 h-4.3" stroke-width="1.1"/>
<path d="M47.1 166.1 h4.3 M465 166.1 h-4.3" stroke-width="1.1"/>
<path d="M47.1 198.3 h4.3 M465 198.3 h-4.3" stroke-width="1.1"/>
<path d="M47.1 230.5 h8 M465 230.5 h-8" stroke-width="1.6"/>
<path d="M47.1 262.7 h4.3 M465 262.7 h-4.3" stroke-width="1.1"/>
<path d="M47.1 294.9 h4.3 M465 294.9 h-4.3" stroke-width="1.1"/>
<path d="M47.1 327.1 h4.3 M465 327.1 h-4.3" stroke-width="1.1"/>
<path d="M47.1 359.3 h4.3 M465 359.3 h-4.3" stroke-width="1.1"/>
<path d="M47.1 391.5 h8 M465 391.5 h-8" stroke-width="1.6"/>
</g>
<text class="t" x="74.81" y="442.7" font-size="15.2" textLength="27.3" lengthAdjust="spacingAndGlyphs">−0.6</text>
<text class="t" x="158.33" y="442.7" font-size="15.2" textLength="27.3" lengthAdjust="spacingAndGlyphs">−0.4</text>
<text class="t" x="241.85" y="442.7" font-size="15.2" textLength="27.3" lengthAdjust="spacingAndGlyphs">−0.2</text>
<text class="t" x="329.47" y="442.7" font-size="15.2" textLength="18.7" lengthAdjust="spacingAndGlyphs">0.0</text>
<text class="t" x="412.99" y="442.7" font-size="15.2" textLength="18.7" lengthAdjust="spacingAndGlyphs">0.2</text>
<text class="t" x="10.8" y="74.7" font-size="15.2" textLength="27.3" lengthAdjust="spacingAndGlyphs">−0.5</text>
<text class="t" x="19.4" y="235.7" font-size="15.2" textLength="18.7" lengthAdjust="spacingAndGlyphs">0.0</text>
<text class="t" x="19.4" y="396.7" font-size="15.2" textLength="18.7" lengthAdjust="spacingAndGlyphs">0.5</text>
<text class="t" x="0.8" y="40.8" font-size="21.8" letter-spacing="1.4" stroke="#111" stroke-width="0.3">u−g</text>
<text class="t" x="238.0" y="462.2" font-size="21.8" letter-spacing="2.0" stroke="#111" stroke-width="0.3">g−r</text>
<defs><clipPath id="cb"><rect x="475.9" y="5.3" width="19.6" height="418"/></clipPath></defs>
<g clip-path="url(#cb)">
<rect x="475.9" y="4.3" width="19.6" height="420" fill="#787878"/><rect x="475.9" y="14.57" width="19.6" height="409.73" fill="#7d7d7d"/><rect x="475.9" y="33.6" width="19.6" height="390.7" fill="#828282"/><rect x="475.9" y="52.63" width="19.6" height="371.67" fill="#868686"/><rect x="475.9" y="71.66" width="19.6" height="352.64" fill="#8a8a8a"/><rect x="475.9" y="90.69" width="19.6" height="333.61" fill="#8e8e8e"/><rect x="475.9" y="109.72" width="19.6" height="314.58" fill="#929292"/><rect x="475.9" y="128.75" width="19.6" height="295.55" fill="#969696"/><rect x="475.9" y="147.78" width="19.6" height="276.52" fill="#9b9b9b"/><rect x="475.9" y="166.81" width="19.6" height="257.49" fill="#a1a1a1"/><rect x="475.9" y="185.84" width="19.6" height="238.46" fill="#a6a6a6"/><rect x="475.9" y="204.87" width="19.6" height="219.43" fill="#ababab"/><rect x="475.9" y="223.9" width="19.6" height="200.4" fill="#b0b0b0"/><rect x="475.9" y="242.93" width="19.6" height="181.37" fill="#b5b5b5"/><rect x="475.9" y="261.96" width="19.6" height="162.34" fill="#bbbbbb"/><rect x="475.9" y="280.99" width="19.6" height="143.31" fill="#c2c2c2"/><rect x="475.9" y="300.02" width="19.6" height="124.28" fill="#cacaca"/><rect x="475.9" y="319.05" width="19.6" height="105.25" fill="#d3d3d3"/><rect x="475.9" y="338.08" width="19.6" height="86.22" fill="#dcdcdc"/><rect x="475.9" y="357.11" width="19.6" height="67.19" fill="#e5e5e5"/><rect x="475.9" y="376.14" width="19.6" height="48.16" fill="#ececec"/><rect x="475.9" y="395.17" width="19.6" height="29.13" fill="#f4f4f4"/><rect x="475.9" y="414.2" width="19.6" height="10.1" fill="#ffffff"/>
</g>
<rect x="476.5" y="5.9" width="18.4" height="416.8" fill="none" stroke="#2a2a2a" stroke-width="1.2"/>
<text class="s" x="500.6" y="13.3" font-size="17.5">0.3</text>
<text class="s" x="500.6" y="163.1" font-size="17.5">0.2</text>
<text class="s" x="500.6" y="295.4" font-size="17.5">0.1</text>
</svg>
</body></html>
